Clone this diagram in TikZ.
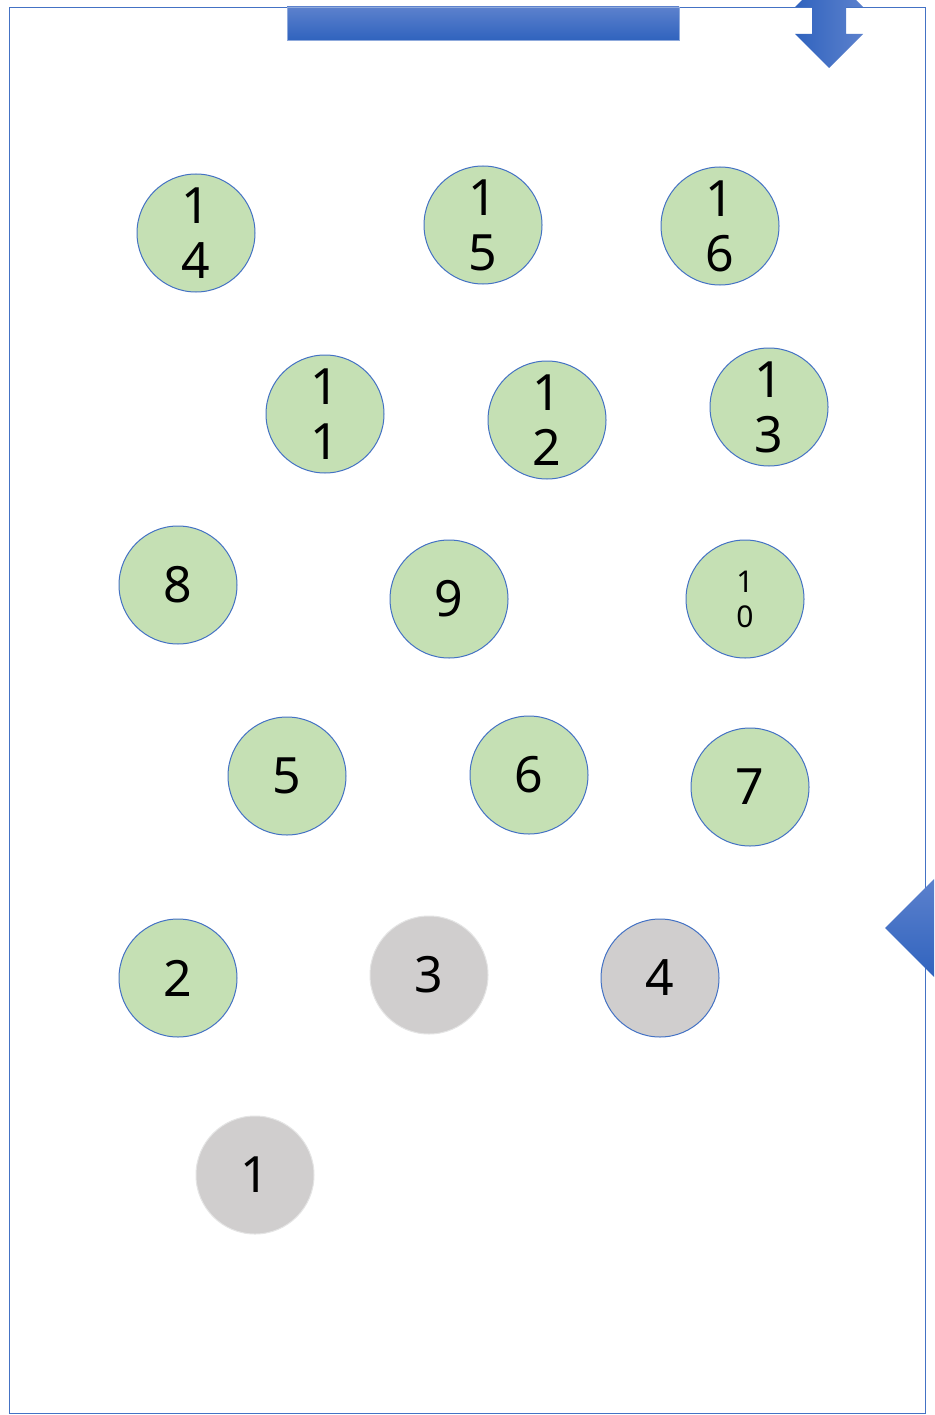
\documentclass[tikz,border=0pt]{standalone}
\usepackage{fontspec}
\setmainfont{Noto Sans}
\definecolor{frameblue}{HTML}{4472C4}
\definecolor{nodegreen}{HTML}{C5E0B4}
\definecolor{nodegray}{HTML}{D0CECE}
\definecolor{darkblue}{HTML}{3063BE}
\definecolor{lightblue}{HTML}{5C81CD}
\tikzset{
  cnode/.style={circle, minimum size=118pt, inner sep=0pt, align=center,
    font=\fontsize{50}{55}\selectfont, line width=1pt},
  greennode/.style={cnode, fill=nodegreen, draw=frameblue},
  graynode/.style={cnode, fill=nodegray, draw=nodegray!80!black!30!white},
  graybluenode/.style={cnode, fill=nodegray, draw=frameblue},
  blueshape/.style={left color=darkblue, right color=lightblue, draw=none},
}
\begin{document}
\begin{tikzpicture}[x=1pt,y=-1pt]
\useasboundingbox (0,0) rectangle (934,1415);
\clip (0,0) rectangle (934,1415);
\fill[white] (0,0) rectangle (934,1415);
% frame
\draw[frameblue, line width=1.3pt] (9.5,7.5) rectangle (925.5,1413.5);
% top bar
\shade[top color=lightblue, bottom color=darkblue] (287,7) rectangle (679,40);
\draw[frameblue!60!white, line width=0.6pt] (287,7) rectangle (679,40);
% up-down arrow top right
\shade[blueshape] (812,7) -- (795,7) -- (829,-27) -- (863,7) -- (846,7)
  -- (846,34) -- (863,34) -- (829,68) -- (795,34) -- (812,34) -- cycle;
% right triangle
\shade[top color=lightblue, bottom color=darkblue] (885,928) -- (935,878) -- (935,978) -- cycle;
% nodes
\node[greennode] (n14) at (196,233) {1\\4};
\node[greennode] (n15) at (483,225) {1\\5};
\node[greennode] (n16) at (720,226) {1\\6};
\node[greennode] (n11) at (325,414) {1\\1};
\node[greennode] (n12) at (547,420) {1\\2};
\node[greennode] (n13) at (769,407) {1\\3};
\node[greennode] (n8) at (178,585) {8};
\node[greennode] (n9) at (449,599) {9};
\node[greennode, font=\fontsize{30}{35}\selectfont] (n10) at (745,599) {1\\0};
\node[greennode] (n5) at (287,776) {5};
\node[greennode] (n6) at (529,775) {6};
\node[greennode] (n7) at (750,787) {7};
\node[greennode] (n2) at (178,978) {2};
\node[graynode] (n3) at (429,975) {3};
\node[graybluenode] (n4) at (660,978) {4};
\node[graynode] (n1) at (255,1175) {1};
\end{tikzpicture}
\end{document}
